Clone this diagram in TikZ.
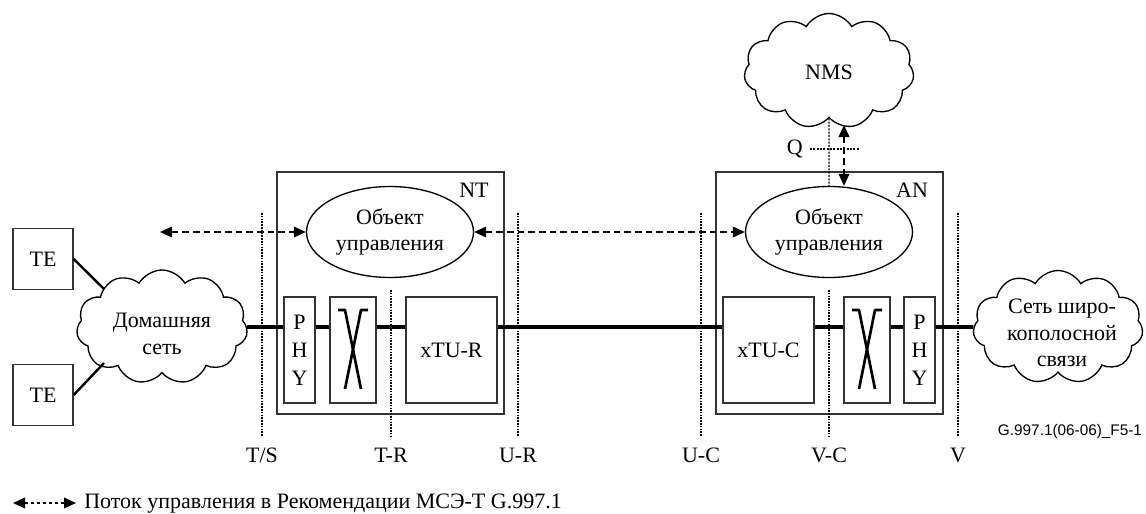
\documentclass[tikz,border=0pt]{standalone}
\usepackage{fontspec}
\setmainfont{Liberation Serif}
\newfontfamily\codefont{Liberation Sans}
\usetikzlibrary{shapes.geometric,shapes.symbols,arrows.meta,calc}

% one drawing unit = 0.75pt
\newcommand\pxu[1]{#1*0.75pt}

% twisted-pair crossing drawn inside a box node
\newcommand\splitsym[1]{%
  \draw[xline] ($(#1.center)+(-15,-40)$) -- ($(#1.center)+(-8,-40)$) -- ($(#1.center)+(8,39)$);
  \draw[xline] ($(#1.center)+(15,-40)$) -- ($(#1.center)+(8,-40)$) -- ($(#1.center)+(-8,39)$);
}

\tikzset{
  frame/.style={draw=black!80, line width=1pt, rectangle, inner sep=0pt},
  unitbox/.style={frame, minimum height=\pxu{106}},
  tebox/.style={frame, minimum width=\pxu{60}, minimum height=\pxu{61}},
  buswire/.style={line width=2.8pt},
  telwire/.style={line width=1.8pt},
  refline/.style={line width=0.8pt, dash pattern=on 1.2pt off 0.9pt},
  qline/.style={line width=0.8pt, dash pattern=on 1.5pt off 1pt},
  mgmt/.style={line width=1.2pt, dash pattern=on 5pt off 3pt,
    {Triangle[length=9pt,width=8pt]}-{Triangle[length=9pt,width=8pt]}},
  legendarrow/.style={line width=1.1pt, dash pattern=on 2.5pt off 2pt,
    {Triangle[length=9pt,width=8pt]}-{Triangle[length=9pt,width=8pt]}},
  netcloud/.style={cloud, cloud puffs=11, cloud puff arc=120, cloud ignores aspect,
    draw, line width=1pt, inner sep=0pt},
  mgobj/.style={ellipse, draw, line width=1pt, inner sep=0pt,
    minimum width=\pxu{167}, minimum height=\pxu{91}, align=center},
  xline/.style={line width=2pt, line join=round},
  reflabel/.style={inner sep=0pt},
}

\begin{document}
\begin{tikzpicture}[x=0.75pt, y=-0.75pt, font=\fontsize{16.5}{20}\selectfont]
\useasboundingbox (0,0) rectangle (1146,514);

% horizontal level of the data path
\coordinate (bus) at (0,327);

% terminal equipment and home network
\node[tebox] (te1) at (43,259) {TE};
\node[tebox] (te2) at (43,395) {TE};
\node[netcloud, minimum width=\pxu{171}, minimum height=\pxu{114}] (home) at (162,327) {};
\node[align=center, inner sep=0pt] (hometxt) at (162,334) {Домашняя\\сеть};
\draw[telwire] (te1.east) -- ($(home.center)+(-58,-38)$);
\draw[telwire] (te2.east) -- ($(home.center)+(-58,36)$);

% NT
\node[frame, minimum width=\pxu{227}, minimum height=\pxu{242}] (nt) at (390.5,293) {};
\node[inner sep=0pt] (ntlabel) at (474,190) {NT};
\node[mgobj] (ntobj) at (390,232) {Объект\\управления};
\node[unitbox, minimum width=\pxu{31}, align=center, font=\fontsize{16.5}{21}\selectfont] (phynt) at (299.5,350) {P\\H\\Y};
\node[unitbox, minimum width=\pxu{46}] (xnt) at (353,350) {};
\node[unitbox, minimum width=\pxu{91}] (xtur) at (451.5,350) {xTU-R};
\splitsym{xnt}

% AN
\node[frame, minimum width=\pxu{227}, minimum height=\pxu{242}] (an) at (829.5,293) {};
\node[inner sep=0pt] (anlabel) at (912,190) {AN};
\node[mgobj] (anobj) at (829,232) {Объект\\управления};
\node[unitbox, minimum width=\pxu{91}] (xtuc) at (768.5,350) {xTU-C};
\node[unitbox, minimum width=\pxu{46}] (xan) at (867,350) {};
\node[unitbox, minimum width=\pxu{31}, align=center, font=\fontsize{16.5}{21}\selectfont] (phyan) at (919.5,350) {P\\H\\Y};
\splitsym{xan}

% broadband network and NMS
\node[netcloud, minimum width=\pxu{170}, minimum height=\pxu{113}] (bb) at (1058,327) {};
\node[align=center, inner sep=0pt] (bbtxt) at (1062,333) {Сеть широ-\\кополосной\\связи};
\node[netcloud, minimum width=\pxu{170}, minimum height=\pxu{115}] (nms) at (829,71) {};
\node[inner sep=0pt] (nmstxt) at (829,72) {NMS};

% data path
\draw[buswire] (home.east |- bus) -- (phynt.west |- bus);
\draw[buswire] (phynt.east |- bus) -- (xnt.west |- bus);
\draw[buswire] (xnt.east |- bus) -- (xtur.west |- bus);
\draw[buswire] (xtur.east |- bus) -- (xtuc.west |- bus);
\draw[buswire] (xtuc.east |- bus) -- (xan.west |- bus);
\draw[buswire] (xan.east |- bus) -- (phyan.west |- bus);
\draw[buswire] (phyan.east |- bus) -- (bb.west);

% reference points
\foreach \name/\x/\ytop/\txt in {ts/262/213/T\slash S, tr/391/290/T-R, ur/518/213/U-R,
                                 uc/701/213/U-C, vc/829/290/V-C, v/958/213/V}{
  \coordinate (\name top) at (\x,\ytop);
  \node[reflabel] (\name lbl) at (\x,455) {\txt};
  \draw[refline] (\name top) -- (\x,436);
}

% Q interface
\draw[qline] (nms.south) -- (anobj.north);
\coordinate (qleft) at (810,149);
\coordinate (qright) at (859,149);
\draw[qline] (qleft) -- (qright);
\node[inner sep=0pt, anchor=east] (qlbl) at (803,149) {Q};

% management flows
\coordinate (homeflow) at (160,232);
\draw[mgmt] (homeflow) -- (ntobj.west);
\draw[mgmt] (ntobj.east) -- (anobj.west);
\coordinate (nmsflow) at (844,125);
\draw[mgmt] (nmsflow) -- (nmsflow |- anobj.north);

% figure code
\node[inner sep=0pt, font=\codefont\fontsize{11.5}{13}\selectfont] (code) at (1070,432) {G.997.1(06-06)\_F5-1};

% legend
\coordinate (lg1) at (13,503);
\coordinate (lg2) at (76,503);
\draw[legendarrow] (lg1) -- (lg2);
\node[inner sep=0pt, anchor=west] (lgtxt) at (84,504) {Поток управления в Рекомендации МСЭ-Т G.997.1};
\end{tikzpicture}
\end{document}
